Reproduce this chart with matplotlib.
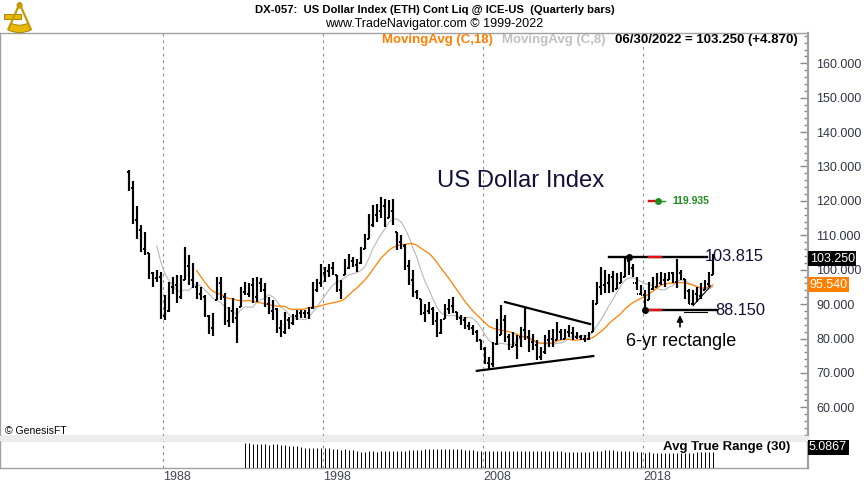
import numpy as np
import pandas as pd
import matplotlib.pyplot as plt
from matplotlib.patches import Wedge, Rectangle, Circle
from matplotlib.ticker import MultipleLocator, FormatStrFormatter
from matplotlib.transforms import blended_transform_factory

# Quarterly bars of DX continuous contract, Q4 1985 .. Q2 2022
first_quarter = 1985.75
first_open = 128.4

highs = [
    129.1, 125.7, 118.5, 112.9, 111.0, 104.9, 99.3, 99.8, 99.3, 92.6,
    96.4, 98.0, 98.4, 98.4, 106.6, 104.2, 101.9, 96.4, 95.0, 92.6,
    86.7, 87.3, 97.9, 97.9, 93.1, 89.2, 91.7, 88.8, 95.0, 96.4,
    96.0, 97.5, 97.9, 97.5, 96.0, 92.0, 91.1, 88.8, 85.3, 87.7,
    86.2, 87.2, 88.2, 88.2, 88.2, 89.2, 96.4, 97.4, 101.8, 100.8,
    101.8, 102.2, 98.4, 96.9, 103.2, 104.7, 103.7, 103.2, 106.6, 110.5,
    116.3, 118.7, 119.2, 121.1, 120.6, 120.2, 120.6, 111.0, 110.0, 107.6,
    102.7, 99.8, 94.0, 91.6, 90.1, 90.6, 89.2, 87.7, 85.8, 90.1,
    91.6, 92.0, 87.7, 86.7, 86.2, 84.8, 83.8, 82.4, 79.5, 77.5,
    74.6, 79.0, 85.8, 89.7, 86.7, 81.4, 81.9, 80.9, 83.3, 89.2,
    82.4, 81.4, 79.5, 77.5, 80.9, 82.4, 82.9, 84.8, 82.9, 82.9,
    83.8, 83.3, 81.9, 80.9, 80.9, 81.9, 91.1, 96.4, 100.8, 99.8,
    98.8, 99.5, 98.9, 99.3, 103.6, 103.815, 101.8, 97.9, 95.5, 94.0,
    96.4, 97.9, 98.9, 99.3, 98.9, 99.3, 99.3, 103.2, 99.8, 97.4,
    94.5, 94.0, 95.0, 96.0, 96.9, 99.3, 104.6,
]
lows = [
    123.0, 113.4, 109.0, 105.1, 104.2, 97.4, 95.0, 96.4, 85.8, 85.3,
    87.7, 93.0, 90.2, 91.5, 96.9, 95.5, 94.6, 91.6, 91.1, 86.2,
    81.4, 80.6, 91.1, 91.1, 83.8, 83.3, 84.4, 78.6, 89.2, 92.6,
    92.0, 90.2, 90.6, 93.5, 89.2, 87.2, 85.3, 81.5, 80.4, 81.4,
    82.9, 83.8, 85.3, 85.9, 85.9, 85.8, 88.7, 93.5, 95.0, 96.4,
    97.9, 98.4, 93.5, 91.6, 98.4, 100.3, 100.8, 99.3, 101.8, 106.1,
    109.0, 112.4, 113.9, 114.9, 112.4, 114.9, 112.9, 105.6, 106.1, 99.8,
    95.5, 92.1, 91.6, 86.7, 84.8, 87.2, 83.8, 80.4, 81.4, 85.8,
    87.2, 87.5, 85.3, 83.8, 82.9, 82.4, 80.9, 79.0, 76.6, 72.7,
    71.2, 71.7, 78.0, 80.9, 79.0, 76.6, 77.5, 74.1, 77.5, 79.5,
    76.1, 76.6, 73.7, 73.7, 75.6, 77.5, 77.5, 79.5, 79.5, 80.0,
    80.4, 79.5, 80.0, 79.5, 79.0, 79.5, 81.9, 90.1, 92.6, 93.1,
    93.3, 93.5, 94.5, 96.0, 97.9, 98.5, 97.9, 94.0, 92.6, 88.15,
    91.1, 94.0, 95.0, 95.5, 95.0, 96.9, 96.0, 94.8, 96.9, 91.6,
    90.1, 89.7, 90.6, 91.6, 94.0, 95.0, 98.4,
]
closes = [
    123.8, 114.5, 111.5, 106.0, 105.0, 99.0, 97.5, 98.0, 86.5, 88.0,
    95.0, 95.5, 92.0, 97.0, 101.0, 97.0, 95.0, 93.0, 92.0, 86.5,
    83.0, 86.0, 96.0, 92.0, 85.0, 88.0, 86.0, 80.0, 93.5, 93.0,
    95.5, 92.0, 96.0, 94.0, 90.0, 88.0, 88.5, 83.0, 82.0, 85.5,
    84.5, 86.5, 87.5, 87.3, 87.5, 88.8, 94.0, 96.0, 99.0, 99.5,
    100.5, 99.0, 94.0, 93.0, 100.5, 102.5, 101.5, 102.0, 105.5, 108.0,
    113.0, 116.0, 117.0, 118.5, 114.5, 117.0, 114.0, 108.0, 106.8, 101.0,
    97.0, 93.5, 92.0, 87.5, 88.0, 88.5, 85.0, 81.5, 84.0, 88.5,
    89.5, 89.0, 86.0, 85.5, 83.5, 83.0, 82.0, 79.5, 77.0, 73.0,
    72.5, 78.5, 81.0, 85.5, 80.5, 77.0, 78.0, 80.5, 82.5, 80.5,
    79.0, 78.0, 74.5, 76.0, 79.5, 80.0, 79.5, 82.0, 80.0, 82.0,
    81.5, 80.5, 80.5, 80.0, 80.0, 81.5, 90.0, 95.0, 95.5, 96.0,
    98.0, 94.5, 96.0, 97.5, 102.5, 100.5, 96.0, 93.0, 92.5, 89.5,
    94.5, 94.5, 96.2, 97.0, 96.0, 99.0, 96.5, 99.0, 97.5, 93.8,
    89.9, 93.0, 92.3, 94.2, 95.7, 98.38, 103.25,
]

# annotation levels
rect_top = 103.815
rect_bottom = 88.150
target_level = 119.935
last_close_label = '103.250'
ma_long_last_label = '95.540'
atr_last_label = '5.0867'
year_labels = [1988, 1998, 2008, 2018]
triangle_upper = ([2009.35, 2014.67], [90.6, 84.2])
triangle_lower = ([2007.59, 2014.87], [70.6, 74.9])

FONT = ['Liberation Sans', 'DejaVu Sans']
NARROW = ['Liberation Sans Narrow', 'Liberation Sans', 'DejaVu Sans']
ORANGE = '#ff8000'
NAVY = '#10103a'

highs = np.array(highs)
lows = np.array(lows)
closes = np.array(closes)
n = len(closes)
x = first_quarter + 0.25 * np.arange(n) + 0.09
opens = np.clip(np.r_[first_open, closes[:-1]], lows, highs)

c = pd.Series(closes)
ma18 = c.rolling(18).mean()
ma8 = c.rolling(8).mean()
prev = c.shift(1)
tr = pd.concat([pd.Series(highs - lows),
                (pd.Series(highs) - prev).abs(),
                (pd.Series(lows) - prev).abs()], axis=1).max(axis=1)
atr = tr.rolling(30).mean()

W, H = 864, 488
fig = plt.figure(figsize=(W / 100, H / 100), dpi=100)
fig.patch.set_facecolor('white')

ax = fig.add_axes([0, 1 - 436 / H, 808 / W, (436 - 33) / H])
ax2 = fig.add_axes([0, 1 - 467.7 / H, 808 / W, (467.7 - 440) / H])
xlim = (1977.79, 2028.29)

# light band between panels
fig.patches.append(plt.Rectangle((0, 1 - 440 / H), 808 / W, 4 / H,
                                 transform=fig.transFigure, color='#ececec', zorder=0))

for a in (ax, ax2):
    a.set_xlim(*xlim)
    for yr in year_labels:
        a.axvline(yr, color='#8a8a8a', lw=0.8, dashes=(2.5, 3.5), zorder=1)
    for s in a.spines.values():
        s.set_color('#a0a0a0')
        s.set_linewidth(1)
    a.spines['right'].set_linewidth(1.6)
    a.set_xticks([])

# price bars
ax.vlines(x, lows, highs, color='black', lw=1.55, zorder=3)
ax.hlines(opens, x - 0.1, x, color='black', lw=1.4, zorder=3)
ax.hlines(closes, x, x + 0.1, color='black', lw=1.4, zorder=3)
ax.plot(x, ma8, color='#b8b8b8', lw=0.8, zorder=2)
ax.plot(x, ma18, color=ORANGE, lw=0.9, zorder=2)

ax.set_ylim(51.66, 168.8)
ax.yaxis.tick_right()
ax.yaxis.set_major_locator(MultipleLocator(10))
ax.yaxis.set_minor_locator(MultipleLocator(2))
ax.yaxis.set_major_formatter(FormatStrFormatter('%.3f'))
ax.tick_params(axis='y', which='major', direction='in', length=6, width=1,
               color='#8a8a8a', pad=6, labelsize=9, labelcolor='#333344')
ax.tick_params(axis='y', which='minor', direction='in', length=3, width=1,
               color='#8a8a8a')
for lab in ax.get_yticklabels():
    lab.set_family(FONT)

# trend lines and rectangle
ax.plot(*triangle_upper, color='black', lw=1.6, zorder=4)
ax.plot(*triangle_lower, color='black', lw=1.6, zorder=4)
ax.plot([2015.875, 2021.96], [rect_top, rect_top], color='black', lw=1.7, zorder=4)
ax.plot([x[129], 2022.59], [rect_bottom, rect_bottom], color='black', lw=1.7, zorder=4)
ax.plot([2020.55, 2022.0], [87.75, 87.75], color='black', lw=0.8, zorder=4)
ax.plot([2021.1, 2022.2], [89.5, 95.2], color='black', lw=0.8, zorder=4)
ax.plot([2018.36, 2019.11], [rect_top, rect_top], color='#e01010', lw=1.7, zorder=5)
ax.plot([2018.36, 2019.11], [rect_bottom, rect_bottom], color='#e01010', lw=1.7, zorder=5)
ax.plot([x[125]], [rect_top], 'o', color='black', ms=4, zorder=6)
ax.plot([x[129]], [rect_bottom], 'o', color='black', ms=4, zorder=6)

# projected target marker
ax.plot([2018.36, 2018.85], [target_level, target_level], color='#e01010', lw=1.7, zorder=5)
ax.plot([2018.9, 2019.36], [target_level, target_level], color='#1e8c1e', lw=1.0, zorder=5)
ax.plot([2018.92], [target_level], 'o', color='#1e8c1e', ms=4, zorder=6)
ax.text(2019.82, target_level, f'{target_level:.3f}', color='#1e8c1e', fontsize=7.5,
        fontweight='bold', va='center', ha='left', family=FONT)

ax.text(2005.12, 125.8, 'US Dollar Index', fontsize=17.2, color=NAVY,
        va='center', ha='left', family=FONT)
ax.text(2021.84, rect_top, f'{rect_top:.3f}', fontsize=11.8, color=NAVY,
        va='center', ha='left', family=FONT)
ax.text(2022.47, rect_bottom, f'{rect_bottom:.3f}', fontsize=11.8, color=NAVY,
        va='center', ha='left', family=FONT)
ax.text(2020.33, 79.2, '6-yr rectangle', fontsize=13, color='black',
        va='center', ha='center', family=FONT)
ax.annotate('', xy=(2020.29, 87.6), xytext=(2020.29, 82.6),
            arrowprops=dict(arrowstyle='-|>', color='black', lw=1.2,
                            mutation_scale=9), zorder=6)

# right side value boxes
bt = blended_transform_factory(ax.transAxes, ax.transData)
ax.text(1.002, closes[-1], last_close_label, transform=bt, color='white', fontsize=9,
        va='center', ha='left', family=FONT, clip_on=False,
        bbox=dict(boxstyle='square,pad=0.12', fc='black', ec='none'))
ax.text(1.002, ma18.iloc[-1], ma_long_last_label, transform=bt, color='white', fontsize=9,
        va='center', ha='left', family=FONT, clip_on=False,
        bbox=dict(boxstyle='square,pad=0.12', fc=ORANGE, ec='none'))

# ATR panel
ok = ~atr.isna()
ax2.vlines(x[ok], 0, atr[ok], color='black', lw=0.7, zorder=3)
ax2.set_ylim(0, atr.iloc[-1] * 1.76)
ax2.set_yticks([])
ax2.text(0.978, 0.75, 'Avg True Range (30)', transform=ax2.transAxes, fontsize=9.5,
         fontweight='bold', ha='right', va='center', family=NARROW)
fig.text(809 / W, 1 - 447 / H, atr_last_label, color='white', fontsize=9,
         va='center', ha='left', family=FONT,
         bbox=dict(boxstyle='square,pad=0.12', fc='black', ec='none'))

bt2 = blended_transform_factory(ax2.transData, fig.transFigure)
for yr in year_labels:
    ax2.text(yr, 1 - 477 / H, str(yr), transform=bt2, fontsize=9, color='#444455',
             ha='left', va='center', family=FONT)

# header
fig.text(434.7 / W, 1 - 9.5 / H,
         'DX-057:  US Dollar Index (ETH) Cont Liq @ ICE-US  (Quarterly bars)',
         fontsize=8.1, fontweight='bold', ha='center', va='center', family=NARROW)
fig.text(434 / W, 1 - 24 / H, 'www.TradeNavigator.com © 1999-2022',
         fontsize=9, ha='center', va='center', family=NARROW)
fig.text(382 / W, 1 - 39.5 / H, 'MovingAvg (C,18)', color=ORANGE, fontsize=9.5,
         fontweight='bold', ha='left', va='center', family=NARROW)
fig.text(502 / W, 1 - 39.5 / H, 'MovingAvg (C,8)', color='#c0c0c0', fontsize=9.5,
         fontweight='bold', ha='left', va='center', family=NARROW)
fig.text(614.6 / W, 1 - 39.5 / H, '06/30/2022 = 103.250 (+4.870)', color='black',
         fontsize=9.5, fontweight='bold', ha='left', va='center', family=NARROW)
fig.text(5 / W, 1 - 431 / H, '© GenesisFT', fontsize=7.5, ha='left', va='center',
         family=NARROW)

# small gold sextant logo in the corner
logo = fig.add_axes([2 / W, 1 - 36 / H, 32 / W, 34 / H])
logo.set_xlim(0, 1)
logo.set_ylim(0, 1)
logo.axis('off')
logo.add_patch(Wedge((0.55, 0.95), 0.85, 245, 295, width=0.22, fc='#e6b800', ec='#9a7a00', lw=0.6))
logo.plot([0.55, 0.2], [0.95, 0.2], color='#c99a00', lw=1.6)
logo.plot([0.55, 0.9], [0.95, 0.2], color='#c99a00', lw=1.6)
logo.add_patch(Rectangle((0.05, 0.5), 0.55, 0.14, fc='#e6b800', ec='#9a7a00', lw=0.6))
logo.add_patch(Circle((0.55, 0.9), 0.08, fc='#e6b800', ec='#9a7a00', lw=0.6))

fig.savefig('out.png', dpi=100, facecolor='white')
